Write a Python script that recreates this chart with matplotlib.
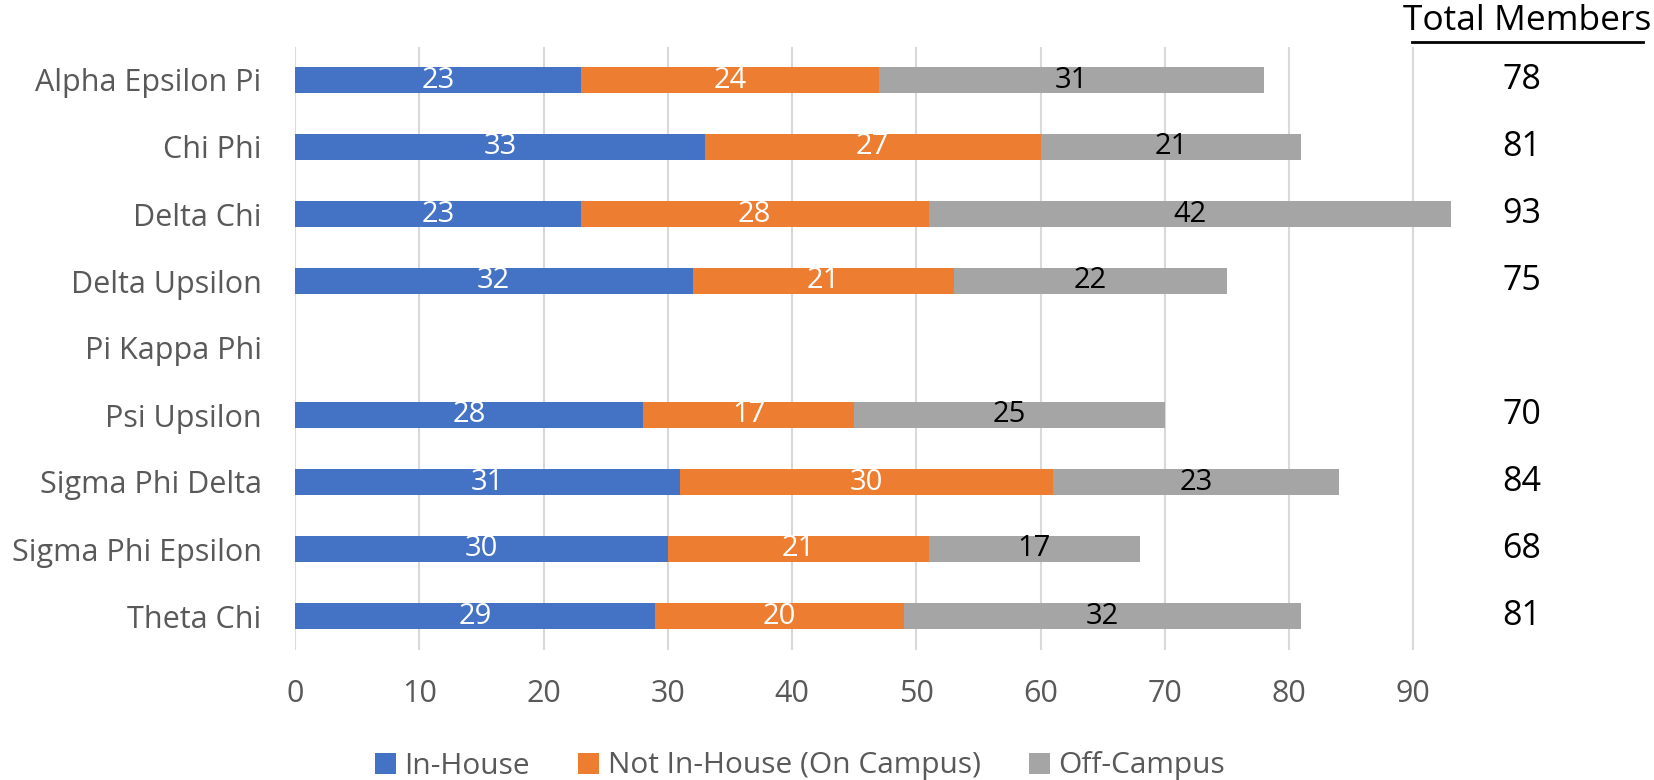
import matplotlib
matplotlib.use("Agg")
import matplotlib.pyplot as plt
import matplotlib.transforms as mtransforms
import numpy as np

categories = ["Alpha Epsilon Pi", "Chi Phi", "Delta Chi", "Delta Upsilon", "Pi Kappa Phi",
              "Psi Upsilon", "Sigma Phi Delta", "Sigma Phi Epsilon", "Theta Chi"]
in_house = [23, 33, 23, 32, np.nan, 28, 31, 30, 29]
not_in_house = [24, 27, 28, 21, np.nan, 17, 30, 21, 20]
off_campus = [31, 21, 42, 22, np.nan, 25, 23, 17, 32]
totals = [78, 81, 93, 75, None, 70, 84, 68, 81]
series_names = ["In-House", "Not In-House (On Campus)", "Off-Campus"]
colors = ["#4472C4", "#ED7D31", "#A5A5A5"]
label_colors = ["white", "white", "black"]
xticks = [0, 10, 20, 30, 40, 50, 60, 70, 80, 90]

W, H = 1654, 780
plt.rcParams['font.family'] = ['Open Sans', 'DejaVu Sans']
fig = plt.figure(figsize=(W / 100, H / 100), dpi=100)
ax = fig.add_axes([295 / W, 1 - 649.5 / H, 1168 / W, 603 / H])

y = np.arange(len(categories))
left = np.zeros(len(categories))
series = [in_house, not_in_house, off_campus]
for vals, name, c, lc in zip(series, series_names, colors, label_colors):
    v = np.array(vals, dtype=float)
    ax.barh(y, np.nan_to_num(v), left=left, height=0.40, color=c, label=name, zorder=3, clip_on=False)
    for yi, (l, w) in enumerate(zip(left, v)):
        if not np.isnan(w):
            ax.text(l + w / 2, yi, f"{int(w)}", ha="center", va="center", color=lc, fontsize=21, zorder=4)
    left = left + np.nan_to_num(v)

ax.set_ylim(len(categories) - 0.5, -0.5)
ax.set_xlim(0, 94)
ax.set_xticks(xticks)
ax.set_yticks(y)
ax.set_yticklabels(categories)
ax.tick_params(axis="both", length=0, labelcolor="#595959", labelsize=22)
ax.tick_params(axis="x", pad=21)
ax.tick_params(axis="y", pad=24)
ax.grid(axis="x", color="#D9D9D9", linewidth=1.5, zorder=0)
for s in ax.spines.values():
    s.set_visible(False)

trans = mtransforms.blended_transform_factory(fig.transFigure, ax.transData)
fig.text(1527 / W, 1 - 21 / H, "Total Members", ha="center", va="center", fontsize=25.5, color="black")
fig.add_artist(plt.Line2D([1412 / W, 1643 / W], [1 - 42 / H] * 2, color="black", linewidth=2))
for yi, t in enumerate(totals):
    if t is not None:
        ax.text(1522 / W, yi, str(t), transform=trans, ha="center", va="center", fontsize=24.5, color="black")

handles, labels = ax.get_legend_handles_labels()
fig.legend(handles, labels, loc="center", bbox_to_anchor=(800 / W, 1 - 766 / H), ncol=3,
           frameon=False, fontsize=21.5, handlelength=0.7, handleheight=0.7, columnspacing=1.6,
           handletextpad=0.3, labelcolor="#595959", borderpad=0)

fig.savefig("out.png", dpi=100)
